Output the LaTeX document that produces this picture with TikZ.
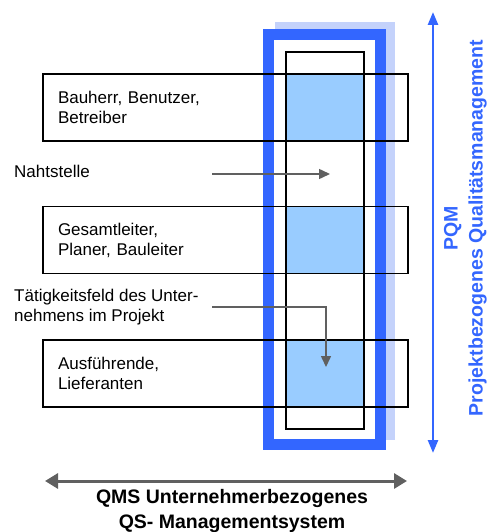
\documentclass[tikz,border=0pt]{standalone}
\usepackage{fontspec}
\setmainfont{Liberation Sans}
\usepackage{tikz}
\usetikzlibrary{arrows.meta,backgrounds}
\definecolor{pqmblau}{HTML}{3366FF}
\definecolor{zellblau}{HTML}{99CCFF}
\definecolor{schattenblau}{HTML}{C4D2FB}
\definecolor{pfeilgrau}{HTML}{606060}

\begin{document}
\begin{tikzpicture}[x=1pt, y=-1pt,
                rolle/.style={draw, line width=1.3pt, minimum width=365pt, minimum height=67pt,
                    text width=335pt, inner xsep=15pt, align=left, font=\fontsize{17}{20}\selectfont},
                notiz/.style={inner sep=0pt, align=left, font=\fontsize{17}{20}\selectfont},
                grauerpfeil/.style={draw=pfeilgrau, line width=1.5pt, -{Triangle[length=11pt,width=10pt]}},
                titel/.style={inner sep=0pt, align=center, font=\bfseries\fontsize{19.5}{25}\selectfont}]
                \useasboundingbox (0,0) rectangle (488,532);
                \node[rolle] (bauherr) at (225.5,107.5) {Bauherr, Benutzer,\\Betreiber};
                \node[rolle] (planer) at (225.5,240) {Gesamtleiter,\\Planer, Bauleiter};
                \node[rolle] (ausf) at (225.5,373.5) {Ausführende,\\Lieferanten};
                \node[draw, line width=1.3pt, minimum width=78pt, minimum height=377pt] (saeule) at (325,240.5) {};
                \begin{pgfonlayer}{background}
                    \node[fill=schattenblau, minimum width=120pt, minimum height=418pt] (schatten) at (335,231) {};
                    \node[draw=pqmblau, fill=white, line width=11pt, minimum width=112pt, minimum height=410pt] (rahmen) at (324.5,239.5) {};
                    \foreach \r in {bauherr,planer,ausf}
                        \fill[zellblau] (saeule.west |- \r.north) rectangle (saeule.east |- \r.south);
                \end{pgfonlayer}
                \node[notiz, anchor=base west] (naht) at (14,177) {Nahtstelle};
                \node[notiz, anchor=west] (taetig) at (14,307.6) {Tätigkeitsfeld des Unter-\\nehmens im Projekt};
                \coordinate (nahtA) at (212,174);
                \coordinate (nahtB) at (330,174);
                \coordinate (taetigA) at (212,307);
                \coordinate (taetigB) at (326,367);
                \draw[grauerpfeil] (nahtA) -- (nahtB);
                \draw[grauerpfeil] (taetigA) -| (taetigB);
                \coordinate (pqmoben) at (433,12);
                \coordinate (pqmunten) at (433,453);
                \draw[pqmblau, line width=2.5pt, {Triangle[length=13pt,width=10pt]}-{Triangle[length=13pt,width=10pt]}] (pqmoben) -- (pqmunten);
                \coordinate (qmslinks) at (45,481);
                \coordinate (qmsrechts) at (407,481);
                \draw[pfeilgrau, line width=3pt, {Triangle[length=13pt,width=15pt]}-{Triangle[length=13pt,width=15pt]}] (qmslinks) -- (qmsrechts);
                \node[titel, text=pqmblau, rotate=90] (pqm) at (465.5,228) {PQM\\Projektbezogenes Qualitätsmanagement};
                \node[titel] (qms) at (232,510.5) {QMS Unternehmerbezogenes\\QS- Managementsystem};
            \end{tikzpicture}
\end{document}
